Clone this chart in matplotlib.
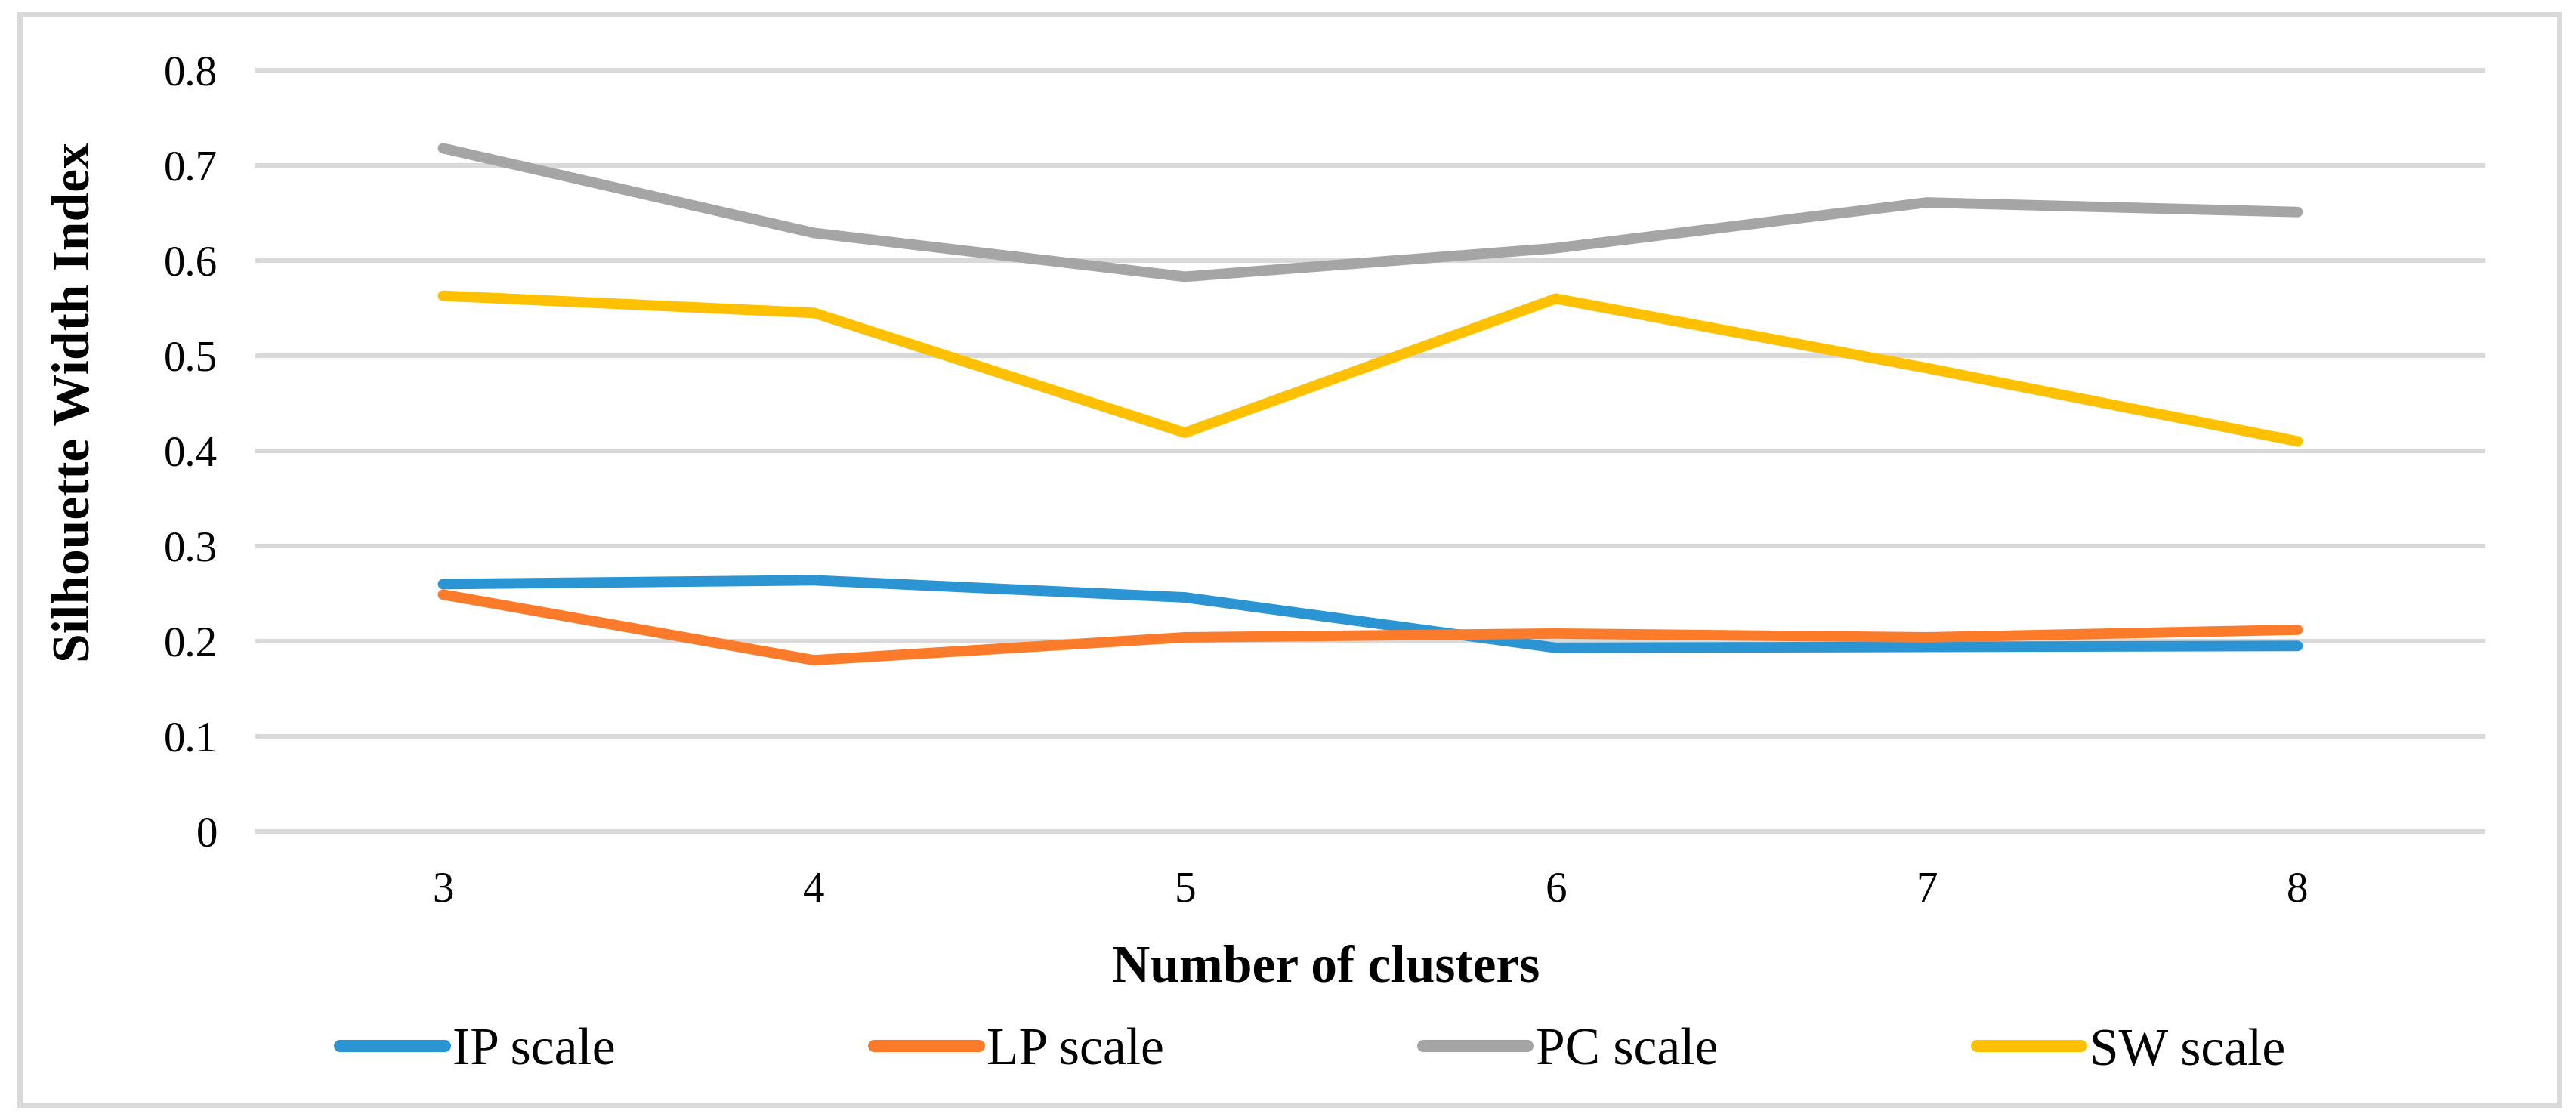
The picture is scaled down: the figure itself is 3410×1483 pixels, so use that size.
"""
Silhouette width index vs. number of clusters for the four scales.
"""

import matplotlib
matplotlib.use("Agg")
import matplotlib.pyplot as plt
from matplotlib.patches import Rectangle

# --- Data ---
clusters = ["3", "4", "5", "6", "7", "8"]
ip_scale = [0.260, 0.264, 0.246, 0.193, 0.194, 0.195]
lp_scale = [0.249, 0.180, 0.204, 0.208, 0.204, 0.212]
pc_scale = [0.718, 0.629, 0.583, 0.613, 0.661, 0.651]
sw_scale = [0.563, 0.545, 0.419, 0.560, 0.487, 0.410]

series_names = ["IP scale", "LP scale", "PC scale", "SW scale"]
series_colors = ["#2B95D3", "#FC7B2B", "#A5A5A5", "#FFC000"]
y_ticks = [0, 0.1, 0.2, 0.3, 0.4, 0.5, 0.6, 0.7, 0.8]

plt.rcParams["font.family"] = ["Liberation Serif", "DejaVu Serif"]

# --- Figure and axes ---
fig = plt.figure(figsize=(17.05, 7.415), dpi=200)
ax = fig.add_axes([0.1, 0.2576, 0.8639, 0.6797])

x = list(range(len(clusters)))
for vals, name, col in zip([ip_scale, lp_scale, pc_scale, sw_scale],
                           series_names, series_colors):
    ax.plot(x, vals, color=col, lw=5.0, label=name,
            solid_capstyle="round", solid_joinstyle="round", zorder=3)

ax.set_xlim(-0.5, len(clusters) - 0.5)
ax.set_ylim(0, 0.8)
ax.set_xticks(x)
ax.set_xticklabels(clusters)
ax.set_yticks(y_ticks)
ax.set_yticklabels(["0" if v == 0 else f"{v:.1f}" for v in y_ticks])
ax.tick_params(axis="both", length=0, labelsize=20.5, pad=19)

ax.yaxis.grid(True, color="#D9D9D9", lw=2.2)
for gl in ax.get_ygridlines():
    gl.set_clip_on(False)
ax.set_axisbelow(True)
for s in ax.spines.values():
    s.set_visible(False)

# --- Axis titles ---
fig.text(0.5147, 0.1355, "Number of clusters", fontsize=25,
         fontweight="bold", ha="center", va="center")
fig.text(0.0296, 0.6406, "Silhouette Width Index", fontsize=25,
         fontweight="bold", ha="center", va="center", rotation=90)

# --- Legend ---
leg = fig.legend(loc="center", bbox_to_anchor=(0.5095, 0.0607), ncol=4,
                 frameon=False, fontsize=25, handlelength=2.0,
                 handletextpad=0.15, columnspacing=4.93)
for h in leg.get_lines():
    h.set_linewidth(5.8)

# --- Outer frame ---
fig.patches.append(Rectangle((0.0075, 0.0135), 0.986, 0.974,
                             transform=fig.transFigure, fill=False,
                             edgecolor="#D9D9D9", lw=2.5))

plt.savefig("out.png", dpi=200)
